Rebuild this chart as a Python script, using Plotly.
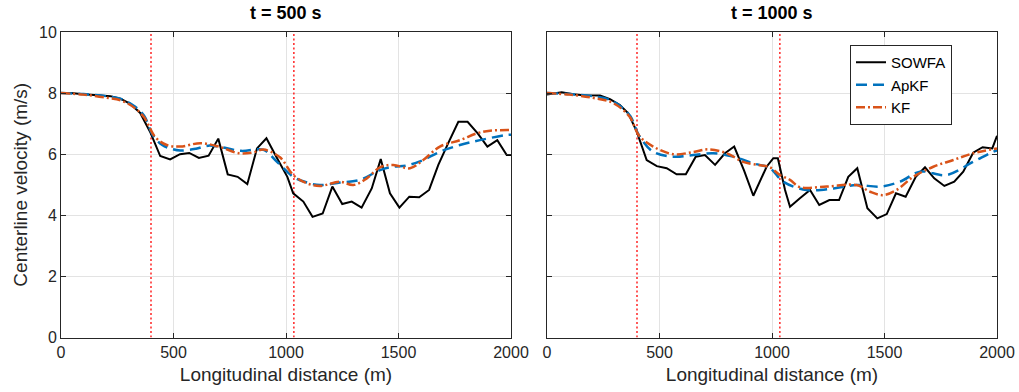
import plotly.graph_objects as go

# ---------------- data ----------------
# t = 500 s
sowfa500_x = [0, 44, 88, 132, 176, 220, 264, 308, 352, 398, 441, 485, 529, 570, 613, 656, 699, 741, 785,
              828, 871, 913, 958, 1006, 1032, 1077, 1118, 1163, 1206, 1250, 1292, 1336, 1381, 1421, 1462,
              1504, 1548, 1592, 1636, 1677, 1721, 1766, 1807, 1852, 1895, 1939, 1981, 2000]
sowfa500_y = [8.0, 8.0, 7.97, 7.95, 7.93, 7.9, 7.82, 7.65, 7.35, 6.7, 5.94, 5.83, 6.0, 6.04, 5.88, 5.95, 6.51,
              5.34, 5.26, 5.02, 6.19, 6.52, 5.9, 5.26, 4.72, 4.45, 3.95, 4.06, 4.94, 4.37, 4.45, 4.25, 4.88,
              5.84, 4.72, 4.25, 4.61, 4.59, 4.83, 5.65, 6.36, 7.06, 7.06, 6.68, 6.25, 6.46, 5.97, 5.97]
apkf500_x = [0, 100, 200, 270, 330, 370, 410, 450, 485, 530, 600, 655, 700, 800, 900, 960, 1032, 1090, 1151,
             1240, 1329, 1418, 1477, 1536, 1610, 1684, 1773, 1862, 1981, 2000]
apkf500_y = [8.0, 7.97, 7.9, 7.8, 7.55, 7.25, 6.6, 6.3, 6.19, 6.12, 6.18, 6.28, 6.25, 6.11, 6.14, 5.75, 5.26,
             5.08, 4.99, 5.07, 5.16, 5.48, 5.59, 5.63, 5.81, 6.08, 6.3, 6.46, 6.63, 6.64]
kf500_x = [0, 100, 200, 270, 330, 370, 420, 470, 530, 620, 700, 790, 850, 900, 973, 1032, 1092, 1151, 1240,
           1299, 1359, 1418, 1477, 1551, 1610, 1684, 1773, 1847, 1907, 2000]
kf500_y = [8.0, 7.95, 7.85, 7.75, 7.5, 7.2, 6.55, 6.3, 6.25, 6.36, 6.25, 6.03, 6.05, 6.15, 5.9, 5.32, 5.05,
           4.96, 5.1, 4.99, 5.21, 5.57, 5.65, 5.54, 5.81, 6.25, 6.46, 6.68, 6.77, 6.79]

# t = 1000 s
sowfa1000_x = [0, 65, 117, 161, 236, 280, 324, 361, 399, 443, 488, 532, 576, 617, 661, 702, 747, 791, 832,
               876, 917, 947, 976, 1006, 1026, 1058, 1080, 1124, 1169, 1210, 1255, 1298, 1339, 1379, 1424,
               1468, 1510, 1551, 1594, 1639, 1680, 1721, 1766, 1810, 1850, 1894, 1936, 1979, 2000]
sowfa1000_y = [7.95, 8.03, 7.96, 7.93, 7.92, 7.8, 7.61, 7.34, 6.74, 5.81, 5.61, 5.54, 5.34, 5.34, 5.92, 5.97,
               5.65, 6.03, 6.25, 5.46, 4.64, 5.1, 5.59, 5.87, 5.87, 4.83, 4.28, 4.56, 4.83, 4.34, 4.5, 4.5,
               5.26, 5.54, 4.23, 3.9, 4.04, 4.72, 4.61, 5.26, 5.57, 5.21, 4.96, 5.1, 5.43, 6.05, 6.23, 6.19, 6.6]
apkf1000_x = [0, 100, 200, 280, 330, 370, 410, 472, 561, 650, 739, 828, 917, 991, 1050, 1154, 1273, 1376,
              1480, 1569, 1658, 1776, 1894, 1983, 2000]
apkf1000_y = [8.0, 7.97, 7.9, 7.78, 7.55, 7.25, 6.6, 6.08, 5.92, 5.97, 6.03, 5.92, 5.7, 5.54, 5.1, 4.83,
              4.88, 4.99, 4.94, 5.1, 5.43, 5.32, 5.75, 6.08, 6.12]
kf1000_x = [0, 100, 200, 280, 330, 370, 410, 472, 561, 650, 717, 799, 872, 947, 991, 1035, 1080, 1124, 1243,
            1376, 1436, 1495, 1554, 1628, 1717, 1806, 1894, 2000]
kf1000_y = [8.0, 7.95, 7.85, 7.72, 7.5, 7.2, 6.6, 6.25, 6.0, 6.07, 6.16, 6.03, 5.75, 5.64, 5.57, 5.32, 5.16,
            4.92, 4.94, 4.99, 4.77, 4.66, 4.83, 5.26, 5.59, 5.81, 6.03, 6.19]

turbine_x = [400, 1035]
panel_titles = ["t = 500 s", "t = 1000 s"]
x_ticks = [0, 500, 1000, 1500, 2000]
y_ticks = [0, 2, 4, 6, 8, 10]

# ---------------- styling ----------------
FONT = "Liberation Sans, Arial, Helvetica, sans-serif"
AX = "#262626"
GRID = "#e3e3e3"
C_SOWFA = "#000000"
C_APKF = "#0072BD"
C_KF = "#D95319"

fig = go.Figure()

panels = [
    ("x", "y", sowfa500_x, sowfa500_y, apkf500_x, apkf500_y, kf500_x, kf500_y),
    ("x2", "y2", sowfa1000_x, sowfa1000_y, apkf1000_x, apkf1000_y, kf1000_x, kf1000_y),
]

for i, (xa, ya, sx, sy, ax_, ay, kx, ky) in enumerate(panels):
    for tx in turbine_x:
        fig.add_trace(go.Scatter(x=[tx, tx], y=[y_ticks[0], y_ticks[-1]], mode="lines",
                                 line=dict(color="#ff0000", width=1.3, dash="2px,2.5px"),
                                 xaxis=xa, yaxis=ya, showlegend=False, hoverinfo="skip"))
    fig.add_trace(go.Scatter(x=sx, y=sy, mode="lines", name="SOWFA",
                             line=dict(color=C_SOWFA, width=2),
                             xaxis=xa, yaxis=ya, showlegend=(i == 1)))
    fig.add_trace(go.Scatter(x=ax_, y=ay, mode="lines", name="ApKF", line_shape="spline",
                             line=dict(color=C_APKF, width=2.5, dash="11px,6px"),
                             xaxis=xa, yaxis=ya, showlegend=(i == 1)))
    fig.add_trace(go.Scatter(x=kx, y=ky, mode="lines", name="KF", line_shape="spline",
                             line=dict(color=C_KF, width=2.5, dash="9px,3px,2px,3px"),
                             xaxis=xa, yaxis=ya, showlegend=(i == 1)))

W, H = 1019, 392
xdoms = [[61 / W, 511 / W], [547 / W, 997 / W]]
ydom = [1 - 337.5 / H, 1 - 32 / H]

common_axis = dict(showline=True, linecolor=AX, linewidth=1, mirror="ticks", ticks="inside",
                   ticklen=5, tickcolor=AX, showgrid=True, gridcolor=GRID, gridwidth=1,
                   zeroline=False, automargin=False, tickfont=dict(family=FONT, size=16, color=AX))

fig.update_layout(
    width=W, height=H, autosize=False,
    margin=dict(l=0, r=0, t=0, b=0, pad=0),
    paper_bgcolor="white", plot_bgcolor="white",
    font=dict(family=FONT, color=AX),
    xaxis=dict(domain=xdoms[0], range=[0, 2000], tickvals=x_ticks, anchor="y",
               title=dict(text="Longitudinal distance (m)", font=dict(size=19, color=AX), standoff=7),
               **common_axis),
    xaxis2=dict(domain=xdoms[1], range=[0, 2000], tickvals=x_ticks, anchor="y2",
                title=dict(text="Longitudinal distance (m)", font=dict(size=19, color=AX), standoff=7),
                **common_axis),
    yaxis=dict(domain=ydom, range=[0, 10], tickvals=y_ticks, anchor="x",
               title=dict(text="Centerline velocity (m/s)", font=dict(size=19, color=AX), standoff=6),
               **common_axis),
    yaxis2=dict(domain=ydom, range=[0, 10], tickvals=y_ticks, anchor="x2", showticklabels=False,
                **common_axis),
    legend=dict(x=850 / W, y=1 - 45 / H, xanchor="left", yanchor="top",
                bgcolor="white", bordercolor=AX, borderwidth=1,
                font=dict(family=FONT, size=15, color="#000000"),
                tracegroupgap=0),
    showlegend=True,
)

for i, t in enumerate(panel_titles):
    fig.add_annotation(text="<b>" + t + "</b>", xref="paper", yref="paper",
                       x=(xdoms[i][0] + xdoms[i][1]) / 2, y=1 - 13 / H,
                       xanchor="center", yanchor="middle", showarrow=False,
                       font=dict(family=FONT, size=18, color="#000000"))

fig.write_html("out.html", config={"responsive": False})
